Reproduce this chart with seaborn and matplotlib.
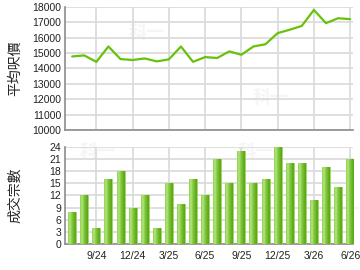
import numpy as np
import pandas as pd
import matplotlib
matplotlib.use("Agg")
import matplotlib.pyplot as plt
import seaborn as sns
from matplotlib.colors import LinearSegmentedColormap

months = ["7/24", "8/24", "9/24", "10/24", "11/24", "12/24", "1/25", "2/25", "3/25",
          "4/25", "5/25", "6/25", "7/25", "8/25", "9/25", "10/25", "11/25", "12/25",
          "1/26", "2/26", "3/26", "4/26", "5/26", "6/26"]
avg_price = [14780, 14850, 14430, 15430, 14610, 14550, 14650, 14460, 14590,
             15430, 14430, 14740, 14680, 15110, 14890, 15430, 15580, 16300,
             16520, 16770, 17810, 16950, 17270, 17210]
deals = [8, 12, 4, 16, 18, 9, 12, 4, 15, 10, 16, 12, 21, 15, 23, 15, 16, 24,
         20, 20, 11, 19, 14, 21]
tick_labels = ["9/24", "12/24", "3/25", "6/25", "9/25", "12/25", "3/26", "6/26"]

df = pd.DataFrame({"month": months, "price": avg_price, "deals": deals})
df["idx"] = np.arange(len(df))

sns.set_style("white")
plt.rcParams["font.family"] = ["Liberation Sans", "Noto Sans CJK TC", "DejaVu Sans"]

fig = plt.figure(figsize=(3.6, 2.7), dpi=100)
ax1 = fig.add_axes([0.181, 0.519, 0.800, 0.455])
ax2 = fig.add_axes([0.181, 0.096, 0.800, 0.360])

grid_c = "#d9d9d9"
spine_c = "#8c8c8c"
tick_pos = [months.index(t) for t in tick_labels]

for ax in (ax1, ax2):
    ax.set_xlim(-0.58, 23.25)
    for s in ("top", "right"):
        ax.spines[s].set_visible(False)
    for s in ("left", "bottom"):
        ax.spines[s].set_color(spine_c)
        ax.spines[s].set_linewidth(1.2)
    ax.set_xticks(tick_pos)
    ax.grid(True, color=grid_c, linewidth=1.2)
    ax.set_axisbelow(True)
    ax.tick_params(axis="y", length=0, labelsize=7.5, colors="#222222", pad=3)

# watermarks
for ax, pts in ((ax1, [(0.22, 0.75), (0.65, 0.22)]), (ax2, [(0.05, 0.9), (0.6, 0.9), (0.9, 0.3)])):
    for (x, y) in pts:
        ax.text(x, y, "科一", transform=ax.transAxes, fontsize=13, color="#f5f5f5",
                fontweight="bold", family=["Noto Sans CJK TC"], zorder=0.5)

# top line chart
sns.lineplot(data=df, x="idx", y="price", ax=ax1, color="#66c20a", linewidth=1.6, zorder=3)
ax1.set_ylim(10000, 18000)
ax1.set_yticks(range(10000, 18001, 1000))
ax1.set_xticklabels([])
ax1.tick_params(axis="x", length=0)
ax1.set_xlabel("")
ax1.set_ylabel("平均呎價", family=["Noto Sans CJK TC"], fontsize=10)

# bottom bar chart
sns.barplot(data=df, x="idx", y="deals", ax=ax2, color="#78c232", width=0.66,
            edgecolor="#9ed862", linewidth=0.6, native_scale=True, zorder=3)
ax2.set_ylim(0, 24)
ax2.set_yticks(range(0, 25, 3))
ax2.set_xlim(-0.58, 23.25)
ax2.set_xticks(tick_pos)
ax2.set_xticklabels(tick_labels)
ax2.tick_params(axis="x", length=4, width=1, color=spine_c, labelsize=7.5, pad=1)
for lab in ax2.get_xticklabels():
    lab.set_color("#222222")
ax2.set_xlabel("")
ax2.set_ylabel("成交宗數", family=["Noto Sans CJK TC"], fontsize=10)

# gradient fill for bars
cmap = LinearSegmentedColormap.from_list("g", ["#8fd050", "#b4e67e", "#86c844", "#6cb626", "#58a410"])
grad = np.linspace(0, 1, 64).reshape(1, -1)
for p in ax2.patches:
    x0, y0 = p.get_x(), p.get_y()
    w, h = p.get_width(), p.get_height()
    im = ax2.imshow(grad, cmap=cmap, aspect="auto", extent=[x0, x0 + w, y0, y0 + h],
                    zorder=3.5, interpolation="bilinear")
    im.set_clip_path(p)
ax2.set_xlim(-0.58, 23.25)
ax2.set_ylim(0, 24)

# place y-labels at the same x (pixel ~15)
bb1 = ax1.get_position()
bb2 = ax2.get_position()
fx = 15 / 360
ax1.yaxis.set_label_coords((fx - bb1.x0) / bb1.width, 0.5)
ax2.yaxis.set_label_coords((fx - bb2.x0) / bb2.width, 0.5)
ax1.yaxis.label.set_verticalalignment("center")
ax2.yaxis.label.set_verticalalignment("center")

fig.savefig("out.png", dpi=100)
